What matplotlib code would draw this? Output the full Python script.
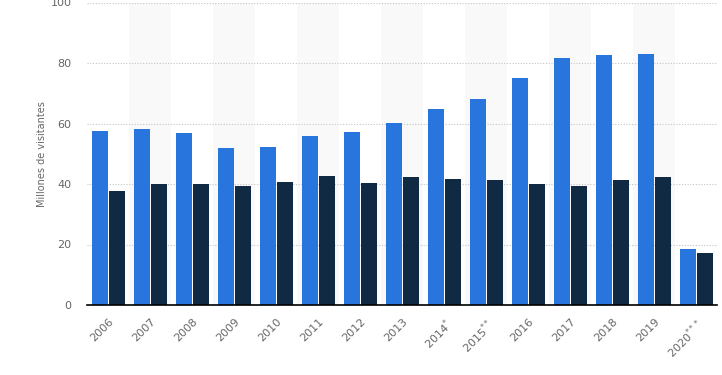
import numpy as np
import matplotlib.pyplot as plt

years = ['2006', '2007', '2008', '2009', '2010', '2011', '2012', '2013',
         '2014$^{*}$', '2015$^{**}$', '2016', '2017', '2018', '2019', '2020$^{***}$']
serie_a = [57.6, 58.3, 57.0, 52.0, 52.3, 56.0, 57.3, 60.3, 64.9, 68.2, 75.2, 81.5, 82.5, 83.1, 18.5]
serie_b = [37.7, 40.1, 40.1, 39.4, 40.7, 42.7, 40.4, 42.4, 41.7, 41.4, 40.1, 39.4, 41.4, 42.4, 17.2]

BLUE = '#2876dd'
DARK = '#0f2a42'
GRAY = '#666666'

fig = plt.figure(figsize=(7.22, 3.75), dpi=100)
ax = fig.add_axes([87 / 722, 1 - 305 / 375, 630 / 722, 302.5 / 375])

x = np.arange(len(years))
w = 16 / 42

# bandas alternas de fondo
for i in x:
    if i % 2 == 1:
        ax.axvspan(i - 0.5, i + 0.5, color='#f9f9f9', zorder=0, lw=0)

ax.bar(x - w / 2 - 1 / 84, serie_a, width=w, color=BLUE, zorder=3)
ax.bar(x + w / 2 + 1 / 84, serie_b, width=w, color=DARK, zorder=3)

ax.set_xlim(-0.5, len(years) - 0.5)
ax.set_ylim(0, 100)
ax.set_yticks([0, 20, 40, 60, 80, 100])
ax.yaxis.grid(True, linestyle=(0, (1, 1.5)), color='#c4c4c4', lw=0.8, zorder=1)

ax.set_xticks(x)
ax.set_xticklabels(years, rotation=45, ha='right', rotation_mode='anchor')
ax.tick_params(axis='x', length=0, pad=8, labelsize=8, labelcolor=GRAY)
ax.tick_params(axis='y', length=0, pad=11, labelsize=8, labelcolor=GRAY)

for s in ['top', 'right', 'left']:
    ax.spines[s].set_visible(False)
ax.spines['bottom'].set_color('#000000')
ax.spines['bottom'].set_linewidth(1.2)
ax.spines['bottom'].set_zorder(4)

ax.set_ylabel('Millones de visitantes', fontsize=7, color=GRAY, labelpad=3)

fig.savefig('out.png', dpi=100)
